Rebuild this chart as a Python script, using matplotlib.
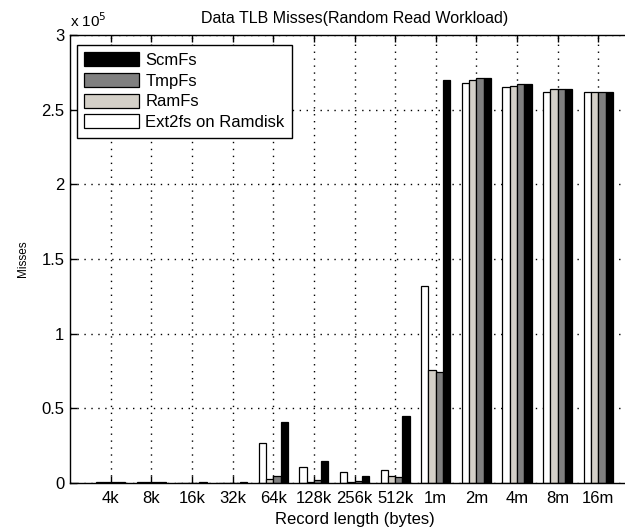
import matplotlib
matplotlib.use('Agg')
import matplotlib.pyplot as plt
import numpy as np

plt.rcParams['font.family'] = ['Liberation Sans', 'DejaVu Sans']

# ---- data (TLB misses) ----
record_sizes = ['4k', '8k', '16k', '32k', '64k', '128k', '256k', '512k',
                '1m', '2m', '4m', '8m', '16m']
ext2fs = [1000, 1000, 0, 0, 27000, 11000, 7500, 8500,
          132000, 268000, 265000, 262000, 262000]
ramfs = [1000, 1000, 0, 0, 3000, 1000, 800, 5000,
         76000, 270000, 266000, 264000, 262000]
tmpfs = [1000, 1000, 0, 0, 5000, 2000, 1200, 4000,
         74000, 271000, 267000, 264000, 262000]
scmfs = [1000, 1000, 1000, 1000, 41000, 14500, 5000, 45000,
         270000, 271000, 267000, 264000, 262000]

series = [('Ext2fs on Ramdisk', ext2fs, '#ffffff'),
          ('RamFs', ramfs, '#d4d0c8'),
          ('TmpFs', tmpfs, '#808080'),
          ('ScmFs', scmfs, '#000000')]

SCALE = 1e5
FS = 12

fig = plt.figure(figsize=(6.25, 5.31), dpi=100)
# axes run past the right edge of the canvas
ax = fig.add_axes([70/625, 1 - 483/531, 569/625, 448/531])

x = np.arange(1, len(record_sizes) + 1)
slot = 0.18
bars = {}
for i, (name, vals, col) in enumerate(series):
    offs = (i - 1.5) * slot
    bars[name] = ax.bar(x + offs, np.array(vals) / SCALE, width=slot,
                        color=col, edgecolor='black', linewidth=0.9, zorder=2)

ax.set_xlim(0, 14)
ax.set_ylim(0, 3)
ax.set_xticks(x)
ax.set_xticklabels(record_sizes)
ax.set_yticks(np.arange(0, 3.01, 0.5))
ax.set_yticklabels(['0', '0.5', '1', '1.5', '2', '2.5', '3'])
ax.tick_params(direction='in', length=5, width=1, labelsize=FS,
               top=True, right=False, pad=4)
ax.tick_params(axis='x', pad=6)
for sp in ax.spines.values():
    sp.set_linewidth(1.0)
ax.spines['right'].set_visible(False)

ax.grid(True, linestyle=(0, (1, 4)), color='black', linewidth=1.0)
ax.set_axisbelow(True)

ax.set_title('Data TLB Misses(Random Read Workload)', fontsize=11.5, pad=9)
ax.set_xlabel('Record length (bytes)', fontsize=FS, labelpad=4)
ax.set_ylabel('Misses', fontsize=8.5, labelpad=9)
ax.text(0.0, 1.012, r'x 10$^5$', transform=ax.transAxes, fontsize=11,
        ha='left', va='bottom')

order = ['ScmFs', 'TmpFs', 'RamFs', 'Ext2fs on Ramdisk']
leg = ax.legend([bars[n] for n in order], order, loc='upper left',
                bbox_to_anchor=(0.012, 0.978), borderaxespad=0,
                fontsize=FS, fancybox=False, framealpha=1,
                edgecolor='black', handlelength=3.3, handleheight=0.9,
                labelspacing=0.3, handletextpad=0.35, borderpad=0.45)
leg.get_frame().set_linewidth(1.0)

fig.savefig('out.png', dpi=100)
